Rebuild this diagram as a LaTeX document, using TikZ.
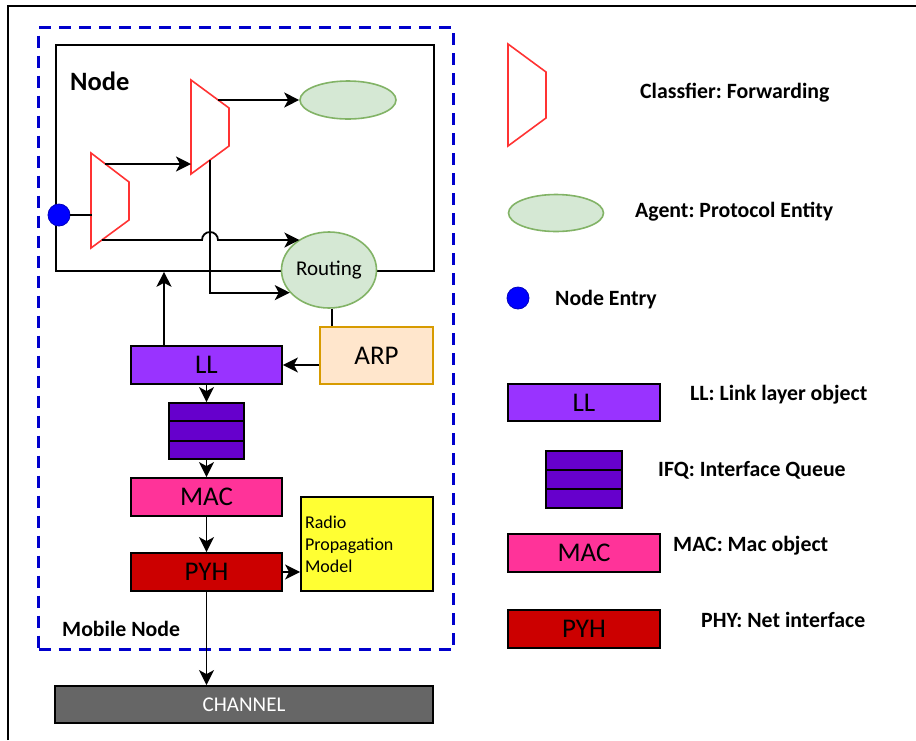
\documentclass[tikz,border=0pt]{standalone}
\usepackage{fontspec}
\setmainfont{Carlito}
\frenchspacing
\usetikzlibrary{arrows.meta,shapes.geometric,calc}
\definecolor{clsred}{HTML}{FF3333}
\definecolor{agentfill}{HTML}{D5E8D4}
\definecolor{agentdraw}{HTML}{82B366}
\definecolor{entryblue}{HTML}{0000FF}
\definecolor{dashblue}{HTML}{0000CC}
\definecolor{llc}{HTML}{9933FF}
\definecolor{ifqc}{HTML}{6600CC}
\definecolor{macc}{HTML}{FF3399}
\definecolor{pyhc}{HTML}{CC0000}
\definecolor{arpfill}{HTML}{FFE6CC}
\definecolor{arpdraw}{HTML}{D79B00}
\definecolor{radioc}{HTML}{FFFF33}
\definecolor{chanc}{HTML}{666666}
\begin{document}
\begin{tikzpicture}[x=1pt,y=-1pt,
  box/.style={draw=black, line width=1.8pt, inner sep=0pt, rectangle},
  boxtext/.style={font=\fontsize{27}{30}\selectfont},
  layerbox/.style={box, minimum width=151, minimum height=38, boxtext},
  arr/.style={line width=1.8pt, -{Stealth[length=15pt,width=15pt,inset=4pt]}},
  plain/.style={line width=1.8pt},
  cls/.style={draw=clsred, line width=1.6pt, line join=miter},
  agent/.style={ellipse, draw=agentdraw, fill=agentfill, line width=1.6pt, inner sep=0pt},
  entry/.style={circle, fill=entryblue, draw=entryblue!75!black, line width=0.8pt, minimum size=22pt, inner sep=0pt},
  leg/.style={font=\fontsize{21.8}{26}\selectfont\bfseries, anchor=base west, inner sep=0pt},
]
\useasboundingbox (0,0) rectangle (916,740);

% outer frame
\draw[line width=1.6pt] (8,740) -- (8,6) -- (916,6);

% mobile node dashed frame
\node[draw=dashblue, line width=3pt, dash pattern=on 12pt off 8pt, minimum width=415, minimum height=622, inner sep=0pt, anchor=north west] (mobile) at (37,26) {};
\node[leg] (mobiletitle) at (62,636) {Mobile Node};

% node box
\node[draw=black, line width=1.8pt, minimum width=378, minimum height=226, inner sep=0pt, anchor=north west] (nodebox) at (55,44) {};
\node[leg, font=\fontsize{26.5}{30}\selectfont\bfseries] (nodetitle) at (70,90) {Node};

% classifiers
\draw[cls] (91,153) -- (129,182) -- (129,220) -- (91,248) -- cycle;
\coordinate (c1in) at (92,215);
\coordinate (c1t) at (105.4,164);
\coordinate (c1b) at (101.9,240);
\draw[cls] (191,80) -- (229,108) -- (229,146) -- (191,174) -- cycle;
\coordinate (c2in) at (191,164);
\coordinate (c2t) at (218,100);
\coordinate (c2b) at (210,160);

% entry and agents
\node[entry] (dot) at (59,215) {};
\node[agent, minimum width=96, minimum height=38] (agent) at (348,100) {};
\node[agent, minimum width=95, minimum height=76, font=\fontsize{21}{25}\selectfont] (routing) at (329,270) {Routing};

% lower stack
\node[layerbox, fill=llc] (ll) at (206.5,365) {LL};
\node[box, draw=arpdraw, fill=arpfill, minimum width=113, minimum height=57, boxtext] (arp) at (376.5,355.5) {ARP};
\node[box, fill=ifqc, minimum width=75, minimum height=56] (ifq) at (206.5,431) {};
\draw[line width=1.8pt] ($(ifq.north west)!1/3!(ifq.south west)$) -- ($(ifq.north east)!1/3!(ifq.south east)$);
\draw[line width=1.8pt] ($(ifq.north west)!2/3!(ifq.south west)$) -- ($(ifq.north east)!2/3!(ifq.south east)$);
\node[layerbox, fill=macc] (mac) at (206.5,497) {MAC};
\node[layerbox, fill=pyhc] (pyh) at (206.5,572) {PYH};
\node[box, fill=radioc, minimum width=132, minimum height=94, text width=124, align=left, font=\fontsize{18}{22}\selectfont] (radio) at (367,544) {Radio\\Propagation\\Model};
\node[box, fill=chanc, minimum width=378, minimum height=37, text=white, font=\fontsize{21}{25}\selectfont] (channel) at (244,704.5) {CHANNEL};

% connectors
\draw[plain] (dot) -- (c1in);
\draw[arr] (c1t) -- (c2in);
\draw[arr] (c2t) -- (agent.west);
\coordinate (hop) at (c2b |- c1b);
\draw[arr] (c1b) -- ([xshift=-8pt]hop) arc[start angle=180, end angle=360, radius=8] -- (c1b -| routing.134);
\draw[arr] (c2b) |- (routing.210);
\coordinate (llup) at ([xshift=-42.5pt]ll.north);
\draw[arr] (llup) -- (llup |- nodebox.south);
\draw[plain] (routing.275) -- (routing.275 |- arp.north);
\draw[arr] (arp.west |- ll.east) -- (ll.east);
\draw[arr] (ll.south) -- (ifq.north);
\draw[arr] (ifq.south) -- (mac.north);
\draw[arr] (mac.south) -- (pyh.north);
\draw[arr] (pyh.east) -- (pyh.east -| radio.west);
\draw[arr] (pyh.south) -- (pyh.south |- channel.north);

% legend
\draw[cls] (508,44) -- (546,72) -- (546,118) -- (508,146) -- cycle;
\node[leg] (lcls) at (640,98) {Classfier: Forwarding};
\node[agent, minimum width=95, minimum height=37] (agentleg) at (556,213) {};
\node[leg] (lagent) at (635,217) {Agent: Protocol Entity};
\node[entry] (dotleg) at (518,298) {};
\node[leg] (ldot) at (555,305) {Node Entry};
\node[box, fill=llc, minimum width=152, minimum height=37, boxtext] (llleg) at (584,402.5) {LL};
\node[leg] (lll) at (690,400) {LL: Link layer object};
\node[box, fill=ifqc, minimum width=76, minimum height=57] (ifqleg) at (584,479.5) {};
\draw[line width=1.8pt] ($(ifqleg.north west)!1/3!(ifqleg.south west)$) -- ($(ifqleg.north east)!1/3!(ifqleg.south east)$);
\draw[line width=1.8pt] ($(ifqleg.north west)!2/3!(ifqleg.south west)$) -- ($(ifqleg.north east)!2/3!(ifqleg.south east)$);
\node[leg] (lifq) at (658,476) {IFQ: Interface Queue};
\node[box, fill=macc, minimum width=152, minimum height=38, boxtext] (macleg) at (584,553) {MAC};
\node[leg] (lmac) at (673,551) {MAC: Mac object};
\node[box, fill=pyhc, minimum width=152, minimum height=38, boxtext] (pyhleg) at (584,629) {PYH};
\node[leg] (lpyh) at (701,627) {PHY: Net interface};
\end{tikzpicture}
\end{document}
